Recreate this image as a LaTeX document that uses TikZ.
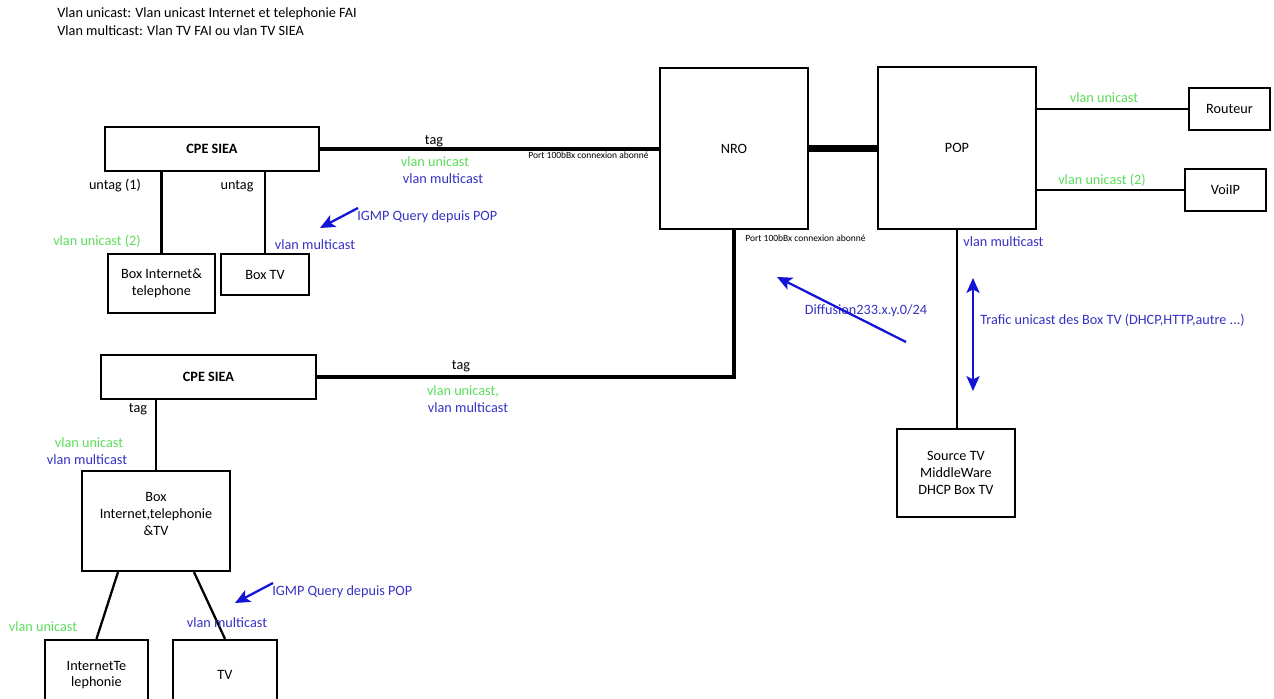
\documentclass[tikz,border=0pt]{standalone}
\usepackage{fontspec}
\setmainfont{Carlito}
\usetikzlibrary{arrows.meta}
\definecolor{vgreen}{RGB}{90,220,90}
\definecolor{vblue}{RGB}{55,50,195}
\definecolor{arrblue}{RGB}{20,20,215}
\begin{document}
\begin{tikzpicture}[>={Stealth[length=8.5pt,width=7.5pt,inset=2pt]}, scale=1,
    box/.style={draw, line width=1.3pt, align=center, inner sep=0pt, font=\fontsize{8.1}{9.5}\selectfont},
    txt/.style={inner sep=0pt, font=\fontsize{8.1}{9.5}\selectfont},
    uni/.style={txt, text=vgreen},
    multi/.style={txt, text=vblue},
    port/.style={inner sep=0pt, anchor=west, font=\fontsize{5.4}{6.5}\selectfont},
    wire/.style={line width=1.3pt},
    trunk/.style={line width=2.6pt},
    flow/.style={->, arrblue, line width=1.3pt}]
				\clip (0,0) rectangle (25.48,13.98);
				\node[txt, anchor=west] (head1) at (1.14, 13.70) {Vlan unicast: Vlan unicast Internet et telephonie FAI};
				\node[txt, anchor=west] (head2) at (1.14, 13.36) {Vlan multicast: Vlan TV FAI ou vlan TV SIEA};
				\node[box, minimum width=4.28cm, minimum height=0.88cm, font=\fontsize{8.1}{9.5}\selectfont\bfseries] (cpeA) at (4.24, 11.00) {CPE SIEA};
				\node[box, minimum width=2.14cm, minimum height=1.18cm] (boxInet) at (3.23, 8.31) {Box Internet\&\\telephone};
				\node[box, minimum width=1.76cm, minimum height=0.82cm] (boxTV) at (5.30, 8.49) {Box TV};
				\node[box, minimum width=2.96cm, minimum height=3.22cm] (nro) at (14.68, 11.01) {NRO};
				\node[box, minimum width=3.16cm, minimum height=3.24cm] (pop) at (19.14, 11.02) {POP};
				\node[box, minimum width=1.62cm, minimum height=0.84cm] (routeur) at (24.59, 11.80) {Routeur};
				\node[box, minimum width=1.62cm, minimum height=0.84cm] (voip) at (24.51, 10.18) {VoiIP};
				\node[box, minimum width=2.36cm, minimum height=1.76cm] (source) at (19.12, 4.52) {Source TV\\MiddleWare\\DHCP Box TV};
				\node[box, minimum width=4.30cm, minimum height=0.88cm, font=\fontsize{8.1}{9.5}\selectfont\bfseries] (cpeB) at (4.17, 6.44) {CPE SIEA};
				\node[box, minimum width=2.96cm, minimum height=2.00cm] (boxAll) at (3.12, 3.56) {Box\\Internet,telephonie\\\&TV\\[-1.6pt]};
				\node[box, minimum width=2.06cm, minimum height=1.40cm] (inetTel) at (1.93, 0.48) {InternetTe\\lephonie};
				\node[box, minimum width=2.08cm, minimum height=1.40cm] (tv) at (4.50, 0.48) {TV};
				\draw[trunk] (cpeA.east) -- (nro.west |- cpeA.east);
				\draw[line width=4pt] (nro.east) -- (pop.west |- nro.east);
				\draw[wire] (pop.east |- routeur.west) -- (routeur.west);
				\draw[wire] (pop.east |- voip.west) -- (voip.west);
				\draw[wire] (pop.south) -- (pop.south |- source.north);
				\draw[trunk] (nro.south) |- (cpeB.east);
				\draw[wire] (cpeA.south -| boxInet.north) -- (boxInet.north);
				\draw[wire] (cpeA.south -| boxTV.north) -- (boxTV.north);
				\draw[wire] (cpeB.south -| boxAll.north) -- (boxAll.north);
				\draw[wire] ([xshift=-0.76cm]boxAll.south) -- (inetTel.north);
				\draw[wire] ([xshift=0.76cm]boxAll.south) -- (tv.north);
				\node[txt] (tagA) at (8.68, 11.16) {tag};
				\node[uni] (uniA) at (8.70, 10.74) {vlan unicast};
				\node[multi] (multiA) at (8.86, 10.40) {vlan multicast};
				\node[port] (portA) at (10.56, 10.88) {Port 100bBx connexion abonné};
				\node[txt] (untagA) at (2.30, 10.26) {untag (1)};
				\node[txt] (untagB) at (4.74, 10.26) {untag};
				\node[uni] (uniB) at (1.94, 9.16) {vlan unicast (2)};
				\node[multi] (multiB) at (6.30, 9.08) {vlan multicast};
				\node[multi, anchor=west] (igmpA) at (7.14, 9.64) {IGMP Query depuis POP};
				\coordinate (igA1) at (7.16, 9.82);
				\coordinate (igA2) at (6.40, 9.42);
				\draw[flow] (igA1) -- (igA2);
				\node[port] (portB) at (14.90, 9.22) {Port 100bBx connexion abonné};
				\node[multi, anchor=west] (multiC) at (19.26, 9.14) {vlan multicast};
				\node[uni] (uniC) at (22.08, 12.02) {vlan unicast};
				\node[uni] (uniD) at (22.04, 10.38) {vlan unicast (2)};
				\node[multi] (diff) at (17.32, 7.76) {Diffusion233.x.y.0/24};
				\coordinate (dfA) at (18.12, 7.14);
				\coordinate (dfB) at (15.54, 8.44);
				\draw[flow] (dfA) -- (dfB);
				\node[multi, anchor=west] (trafic) at (19.60, 7.58) {Trafic unicast des Box TV (DHCP,HTTP,autre ...)};
				\coordinate (trA) at (19.46, 8.42);
				\coordinate (trB) at (19.46, 6.16);
				\draw[flow, <->] (trA) -- (trB);
				\node[txt] (tagB) at (9.22, 6.66) {tag};
				\node[uni] (uniE) at (9.26, 6.16) {vlan unicast,};
				\node[multi] (multiE) at (9.36, 5.82) {vlan multicast};
				\node[txt] (tagC) at (2.76, 5.80) {tag};
				\node[uni] (uniF) at (1.78, 5.12) {vlan unicast};
				\node[multi] (multiF) at (1.74, 4.78) {vlan multicast};
				\node[uni] (uniG) at (0.86, 1.44) {vlan unicast};
				\node[multi] (multiG) at (4.54, 1.52) {vlan multicast};
				\node[multi, anchor=west] (igmpB) at (5.44, 2.14) {IGMP Query depuis POP};
				\coordinate (igB1) at (5.46, 2.32);
				\coordinate (igB2) at (4.70, 1.92);
				\draw[flow] (igB1) -- (igB2);
			\end{tikzpicture}
\end{document}
